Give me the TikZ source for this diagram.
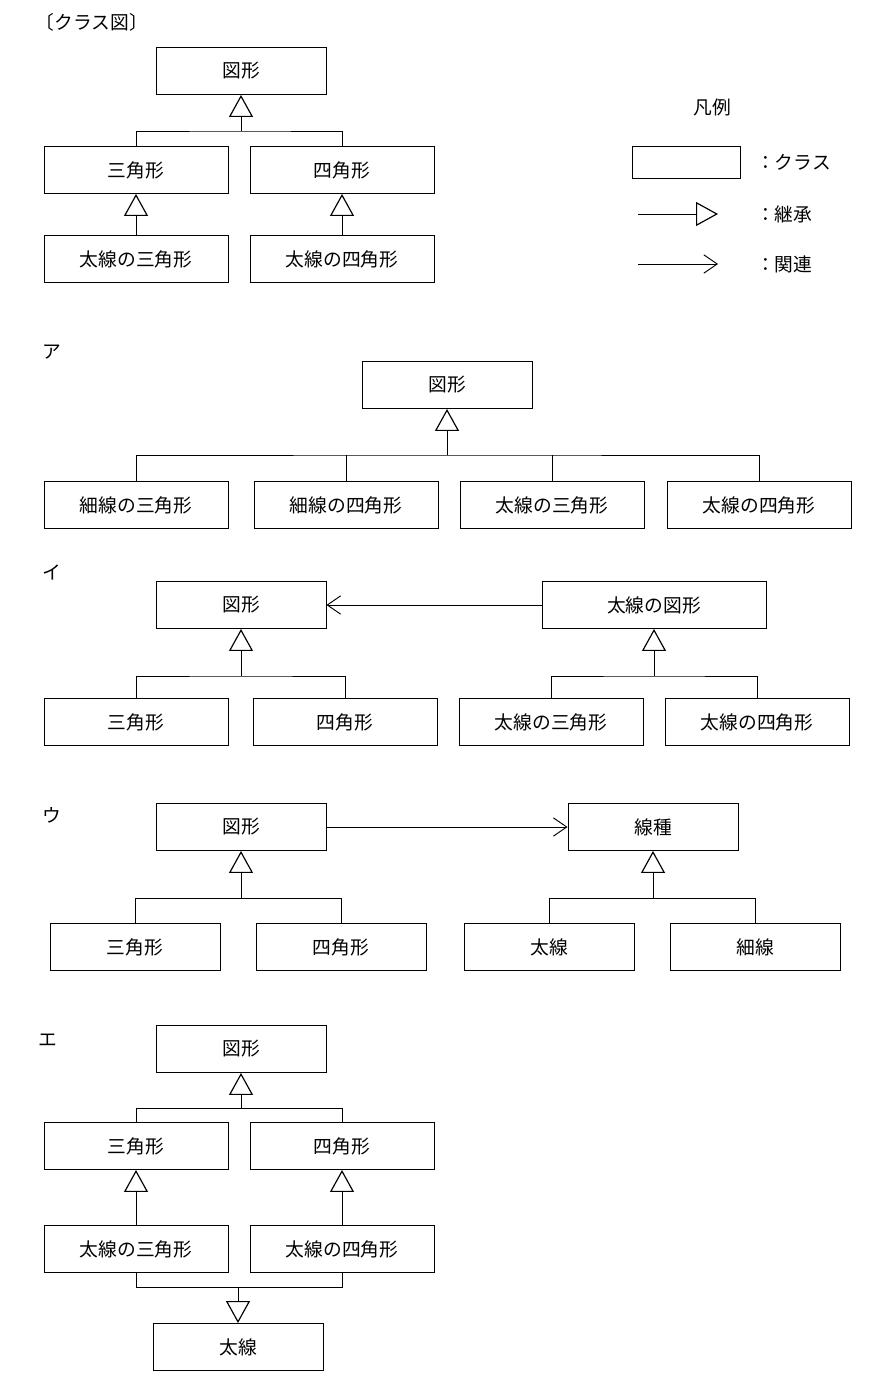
\documentclass[tikz,border=0pt]{standalone}
\usepackage{fontspec}
\setmainfont{Noto Sans CJK JP}
\usetikzlibrary{arrows.meta}
\tikzset{
  cls/.style={draw,thick,minimum height=1.41cm,inner sep=0pt,font=\fontsize{16}{18}\selectfont},
  w170/.style={minimum width=5.1cm},
  w184/.style={minimum width=5.52cm},
  inh/.style={thick,-{Triangle[open,length=0.66cm,width=0.72cm,line width=1pt]}},
  assoc/.style={thick,-{Straight Barb[length=0.4cm,width=0.55cm]}},
  lbl/.style={font=\fontsize{16}{18}\selectfont}
}
\begin{document}
\begin{tikzpicture}[x=0.03cm,y=-0.03cm]
\useasboundingbox (0,0) rectangle (870,1383);
\node[lbl] (title) at (92,22) {〔クラス図〕};
% class diagram
\node[cls,w170] (g0) at (241,71) {図形};
\node[cls,w184] (t0) at (136,170) {三角形};
\node[cls,w184] (s0) at (342,170) {四角形};
\node[cls,w184] (bt0) at (136,259) {太線の三角形};
\node[cls,w184] (bs0) at (342,259) {太線の四角形};
\coordinate (j0) at (241,131);
\draw[inh] (j0) -- (g0.south);
\draw[thick] (t0.north) |- (j0) -| (s0.north);
\draw[inh] (bt0) -- (t0);
\draw[inh] (bs0) -- (s0);
% legend
\node[lbl] (leg) at (712,107) {凡例};
\node[draw,thick,minimum width=3.24cm,minimum height=0.96cm] (legbox) at (686,162) {};
\node[lbl,anchor=west] (legc) at (752,162) {：クラス};
\coordinate (la1) at (638,214); \coordinate (lb1) at (718,214);
\coordinate (la2) at (638,264); \coordinate (lb2) at (718,264);
\draw[inh] (la1) -- (lb1);
\draw[assoc] (la2) -- (lb2);
\node[lbl,anchor=west] (legi) at (752,214) {：継承};
\node[lbl,anchor=west] (lega) at (752,264) {：関連};
% ア
\node[lbl] (la) at (52,352) {ア};
\node[cls,w170] (ga) at (447,385) {図形};
\foreach \n/\x/\t in {a1/136/細線の三角形,a2/346/細線の四角形,a3/552/太線の三角形,a4/759/太線の四角形}
  \node[cls,w184] (\n) at (\x,505) {\t};
\coordinate (ja) at (447,455);
\draw[inh] (ja) -- (ga.south);
\draw[thick] (a1.north) |- (ja) -| (a4.north);
\foreach \n in {a2,a3} \draw[thick] (\n.north) -- (\n.north|-ja);
% イ
\node[lbl] (li) at (52,572) {イ};
\node[cls,w170] (gi) at (241,605) {図形};
\node[cls,minimum width=6.72cm] (bgi) at (654,605) {太線の図形};
\draw[assoc] (bgi) -- (gi);
\foreach \n/\x/\t in {i1/136/三角形,i2/345/四角形,i3/551/太線の三角形,i4/757/太線の四角形}
  \node[cls,w184] (\n) at (\x,722) {\t};
\coordinate (ji) at (241,676); \coordinate (jbi) at (654,676);
\draw[inh] (ji) -- (gi.south);
\draw[inh] (jbi) -- (bgi.south);
\draw[thick] (i1.north) |- (ji) -| (i2.north);
\draw[thick] (i3.north) |- (jbi) -| (i4.north);
% ウ
\node[lbl] (lu) at (52,815) {ウ};
\node[cls,w170] (gu) at (241,827) {図形};
\node[cls,w170] (ku) at (653,827) {線種};
\draw[assoc] (gu) -- (ku);
\foreach \n/\x/\t in {u1/135/三角形,u2/341/四角形,u3/549/太線,u4/755/細線}
  \node[cls,w170] (\n) at (\x,947) {\t};
\coordinate (ju) at (241,898); \coordinate (jku) at (653,898);
\draw[inh] (ju) -- (gu.south);
\draw[inh] (jku) -- (ku.south);
\draw[thick] (u1.north) |- (ju) -| (u2.north);
\draw[thick] (u3.north) |- (jku) -| (u4.north);
% エ
\node[lbl] (le) at (48,1040) {エ};
\node[cls,w170] (ge) at (241,1049) {図形};
\node[cls,w184] (te) at (136,1146) {三角形};
\node[cls,w184] (se) at (342,1146) {四角形};
\node[cls,w184] (bte) at (136,1249) {太線の三角形};
\node[cls,w184] (bse) at (342,1249) {太線の四角形};
\node[cls,w170] (fe) at (238,1347) {太線};
\coordinate (je) at (241,1108); \coordinate (je2) at (238,1287);
\draw[inh] (je) -- (ge.south);
\draw[thick] (te.north) |- (je) -| (se.north);
\draw[inh] (bte) -- (te);
\draw[inh] (bse) -- (se);
\draw[thick] (bte.south) |- (je2) -| (bse.south);
\draw[inh] (je2) -- (fe.north);
\end{tikzpicture}
\end{document}
